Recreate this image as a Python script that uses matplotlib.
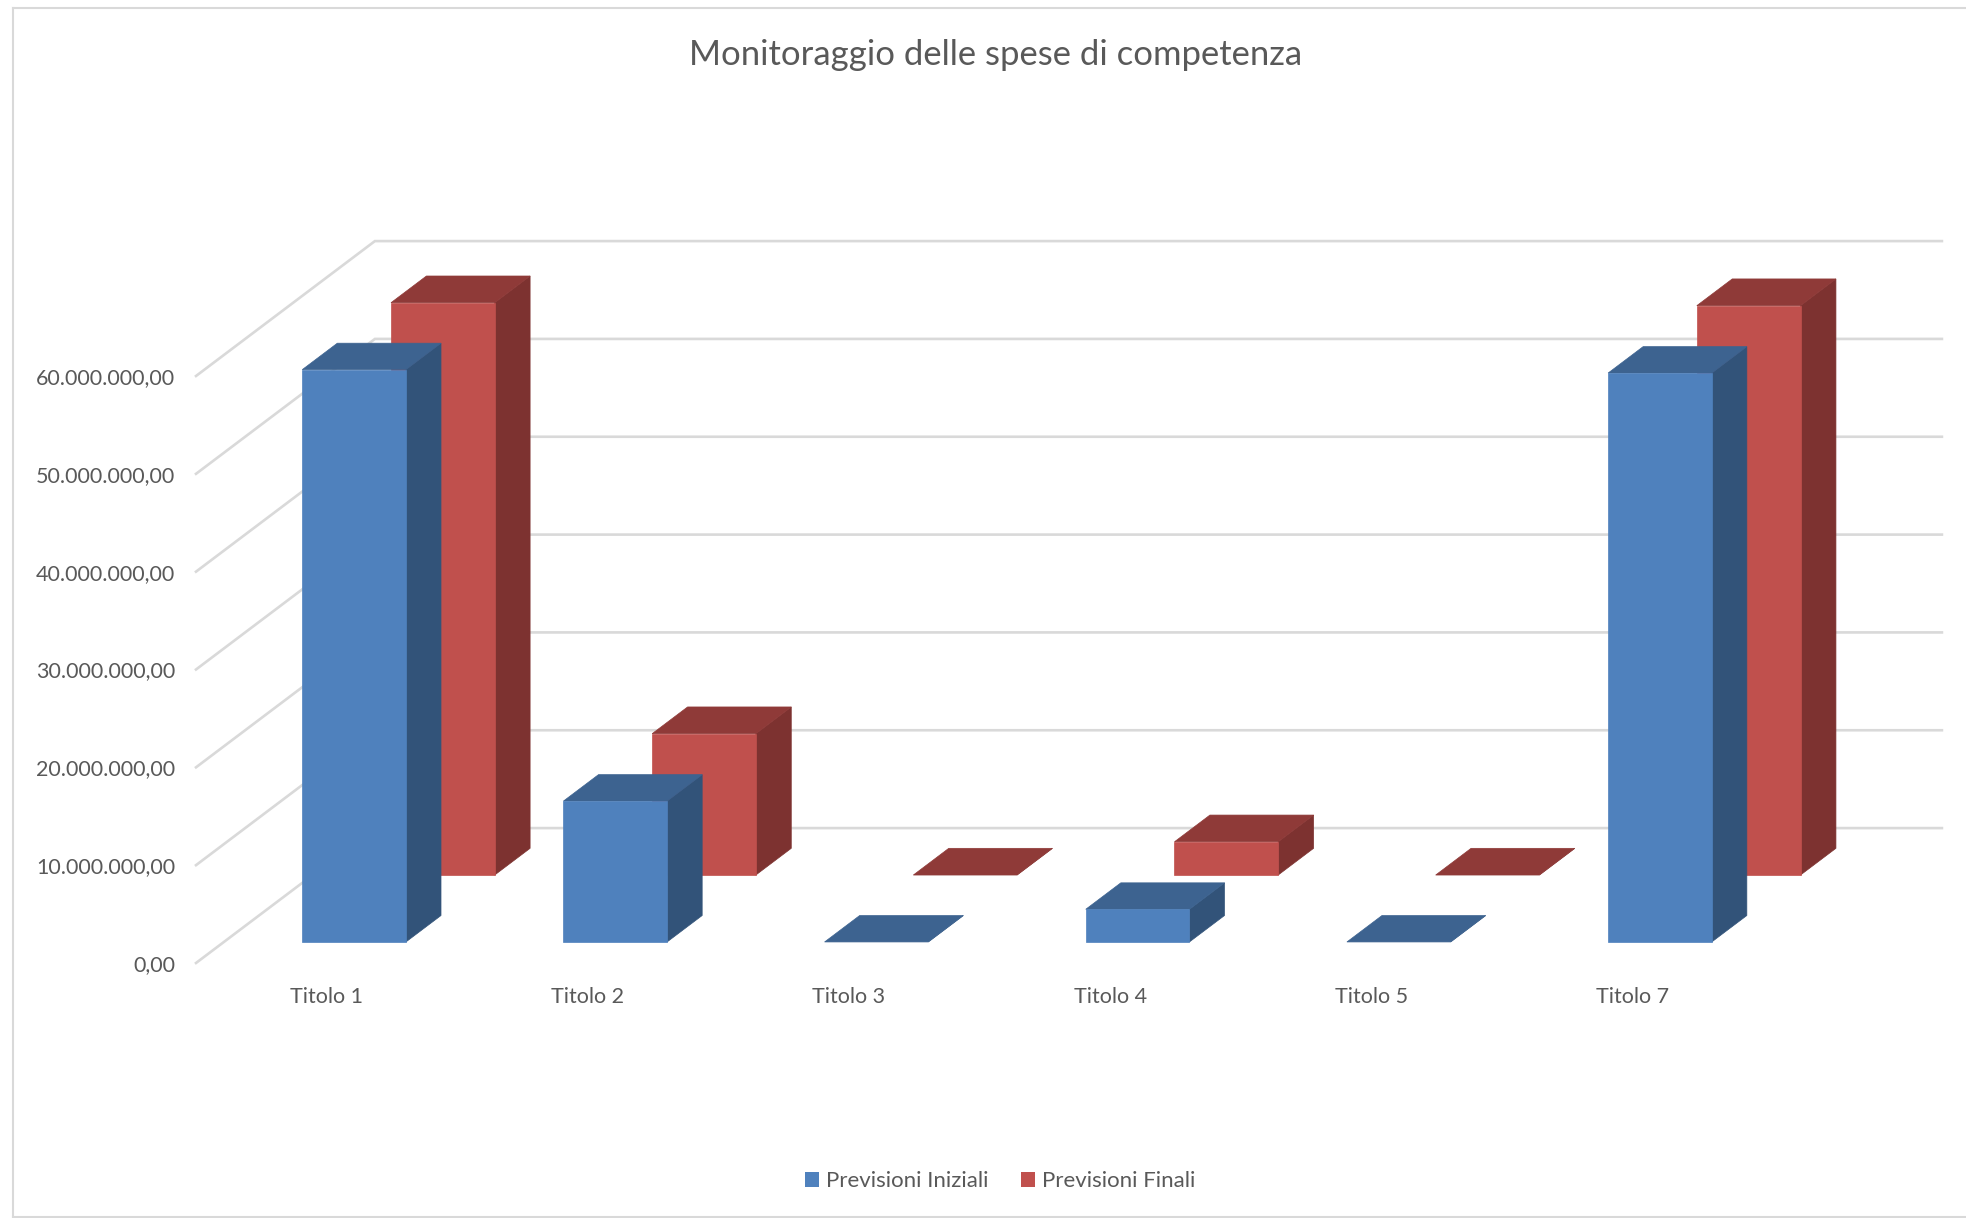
from matplotlib import pyplot as plt
from matplotlib.patches import Polygon, Patch
from matplotlib.lines import Line2D

plt.rcParams['font.family'] = ['Lato', 'DejaVu Sans']

categories = ['Titolo 1', 'Titolo 2', 'Titolo 3', 'Titolo 4', 'Titolo 5', 'Titolo 7']
previsioni_iniziali = [58500000, 14400000, 0, 3340000, 0, 58150000]
previsioni_finali = [58500000, 14450000, 0, 3400000, 0, 58200000]
y_ticks = [0, 10000000, 20000000, 30000000, 40000000, 50000000, 60000000]
y_labels = ['0,00', '10.000.000,00', '20.000.000,00', '30.000.000,00',
            '40.000.000,00', '50.000.000,00', '60.000.000,00']

# how far one full unit of depth moves a point, in data units
DEPTH_X = 0.685
DEPTH_Y = 13790000
TEXT = '#595959'
GRID = '#D9D9D9'


def project(x, depth, value):
    '''oblique projection of a point of the 3d box to the 2d axes.'''
    return (x + depth * DEPTH_X, value + depth * DEPTH_Y)


def draw_bar(ax, x0, x1, d0, d1, value, colors):
    '''draws the visible faces of one 3d bar: side, top and front.'''
    front, side, top = colors
    faces = [
        (side, [(x1, d0, 0), (x1, d1, 0), (x1, d1, value), (x1, d0, value)]),
        (top, [(x0, d0, value), (x1, d0, value), (x1, d1, value), (x0, d1, value)]),
    ]
    if value > 0:
        faces.append((front, [(x0, d0, 0), (x1, d0, 0), (x1, d0, value), (x0, d0, value)]))
    for color, corners in faces:
        points = [project(*c) for c in corners]
        ax.add_patch(Polygon(points, closed=True, facecolor=color, edgecolor=color,
                             linewidth=0.5, clip_on=False, zorder=3))


def draw_series(ax, values, d0, d1, colors):
    for i, value in enumerate(values):
        draw_bar(ax, i + 0.3, i + 0.697, d0, d1, value, colors)


fig = plt.figure(figsize=(19.66, 12.18), dpi=100)
ax = fig.add_axes([196 / 1966, (1218 - 963) / 1218, 1567 / 1966, 587 / 1218])
ax.set_xlim(0, len(categories))
ax.set_ylim(0, 60000000)
for spine in ax.spines.values():
    spine.set_visible(False)
ax.patch.set_alpha(0)

# left wall and back wall grid
for tick in y_ticks:
    corner = project(0, 1, tick)
    end = project(len(categories), 1, tick)
    ax.plot([0, corner[0], end[0]], [tick, corner[1], end[1]], color=GRID,
            linewidth=1.9, clip_on=False, zorder=1, solid_joinstyle='miter')

draw_series(ax, previsioni_finali, 0.652, 0.85, ('#C0504D', '#7D3230', '#8F3A38'))
draw_series(ax, previsioni_iniziali, 0.156, 0.352, ('#4F81BD', '#325379', '#3D6390'))

ax.set_xticks([i + 0.5 for i in range(len(categories))])
ax.set_xticklabels(categories, fontsize=15.5, color=TEXT)
ax.set_yticks(y_ticks)
ax.set_yticklabels(y_labels, fontsize=15.5, color=TEXT)
ax.tick_params(axis='x', length=0, pad=17)
ax.tick_params(axis='y', length=0, pad=15)

fig.text(996 / 1966, 1 - 55 / 1218, 'Monitoraggio delle spese di competenza',
         fontsize=24.9, color=TEXT, ha='center', va='center')

handles = [Patch(facecolor='#4F81BD', label='Previsioni Iniziali'),
           Patch(facecolor='#C0504D', label='Previsioni Finali')]
fig.legend(handles=handles, loc='center', bbox_to_anchor=(1000 / 1966, 1 - 1181 / 1218),
           ncol=2, frameon=False, fontsize=16, labelcolor=TEXT, handlelength=0.65,
           handleheight=0.65, handletextpad=0.3, columnspacing=1.45)

# chart frame, the right side is cut off in the reference
for xs, ys in [((13, 13), (8, 1217)), ((13, 1966), (8, 8)), ((13, 1966), (1217, 1217))]:
    fig.add_artist(Line2D([x / 1966 for x in xs], [1 - y / 1218 for y in ys],
                          color=GRID, linewidth=1.5))

plt.savefig('out.png', dpi=100)
